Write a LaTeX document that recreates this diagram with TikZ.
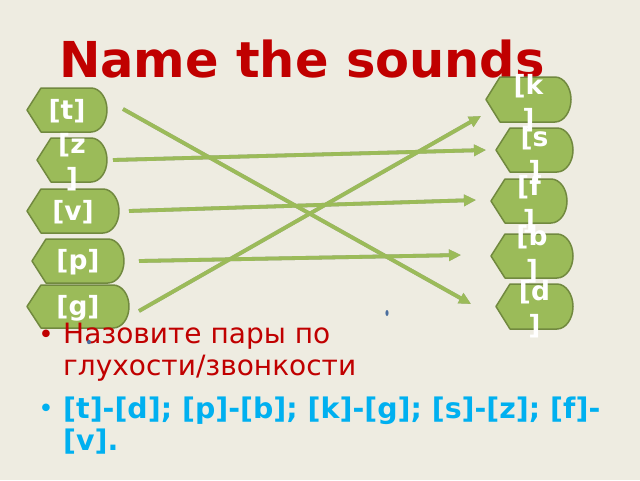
\documentclass[tikz,border=0pt]{standalone}
\usepackage{fontspec}
\setmainfont{DejaVu Sans}
\usetikzlibrary{arrows.meta}
\definecolor{bg}{HTML}{EEECE1}
\definecolor{shgreen}{HTML}{9BBB59}
\definecolor{shline}{HTML}{71893F}
\definecolor{titlered}{HTML}{C00000}
\definecolor{cyanb}{HTML}{00B0F0}
\definecolor{dotblue}{HTML}{4A6E9E}
\definecolor{shadowgray}{HTML}{A8A8A2}
\tikzset{
  dispshape/.style={fill=shgreen, draw=shline, line width=1.5pt, line join=round},
  lbl/.style={text=white, font=\fontsize{26.5}{34}\selectfont\bfseries, align=center, inner sep=0pt},
  conn/.style={draw=shgreen, line width=3.8pt, -{Triangle[length=12pt,width=11pt]}},
  connshadow/.style={draw=shadowgray, line width=3.8pt, -{Triangle[length=12pt,width=11pt]}, shift={(1.2,1.5)}},
  redtxt/.style={text=titlered, font=\fontsize{28}{32}\selectfont, anchor=base west, inner sep=0pt},
  cyantxt/.style={text=cyanb, font=\fontsize{28.4}{32}\selectfont\bfseries, anchor=base west, inner sep=0pt},
  bulletmark/.style={font=\fontsize{26}{30}\selectfont, anchor=base, inner sep=0pt},
}
\newcommand{\dshape}[4]{%
  \pgfmathsetmacro{\ym}{(#3+#4)/2}%
  \draw[dispshape] (#1,\ym) -- (#1+14,#3) -- (#2-16,#3)
    .. controls (#2-7.2,#3) and (#2,\ym-12.1) .. (#2,\ym)
    .. controls (#2,\ym+12.1) and (#2-7.2,#4) .. (#2-16,#4)
    -- (#1+14,#4) -- cycle;
}
\begin{document}
\begin{tikzpicture}[x=1pt, y=-1pt]
\useasboundingbox (0,0) rectangle (640,480);
\fill[bg] (0,0) rectangle (640,480);

% title
\node[font=\fontsize{49.5}{55}\selectfont\bfseries, text=titlered, anchor=base, inner sep=0pt] (title) at (302,77) {Name the sounds};

% shapes
\dshape{27}{107}{88}{132}
\dshape{37}{107}{138}{182}
\dshape{27}{119}{189}{233}
\dshape{32}{124}{239}{283}
\dshape{27}{129}{285}{328}
\dshape{486}{571}{77}{122}
\dshape{496}{573}{128}{172}
\dshape{491}{567}{179}{223}
\dshape{491}{573}{234}{278}
\dshape{496}{573}{284}{329}

% connector end points
\coordinate (t-o) at (123,109);
\coordinate (z-o) at (113,160);
\coordinate (v-o) at (129,211);
\coordinate (p-o) at (139,261);
\coordinate (g-o) at (139,311);
\coordinate (k-i) at (481,116);
\coordinate (s-i) at (486,150);
\coordinate (f-i) at (476,200);
\coordinate (b-i) at (461,255);
\coordinate (d-i) at (471,304);

% shadows
\draw[connshadow] (t-o) -- (d-i);
\draw[connshadow] (z-o) -- (s-i);
\draw[connshadow] (v-o) -- (f-i);
\draw[connshadow] (p-o) -- (b-i);
\draw[connshadow] (g-o) -- (k-i);
% connectors
\draw[conn] (t-o) -- (d-i);
\draw[conn] (z-o) -- (s-i);
\draw[conn] (v-o) -- (f-i);
\draw[conn] (p-o) -- (b-i);
\draw[conn] (g-o) -- (k-i);

% labels
\node[lbl] (t) at (67,111) {[t]};
\node[lbl] (z) at (72,162) {[z\\]};
\node[lbl] (v) at (73,212) {[v]};
\node[lbl] (p) at (78,262) {[p]};
\node[lbl] (g) at (78,308) {[g]};
\node[lbl] (k) at (528.5,103) {[k\\]};
\node[lbl] (s) at (534.5,155) {[s\\]};
\node[lbl] (f) at (529,204) {[f\\]};
\node[lbl] (b) at (532,254) {[b\\]};
\node[lbl] (d) at (534.5,309) {[d\\]};

% bullet text
\node[bulletmark, text=titlered] (b1) at (46,343) {•};
\node[redtxt] (q1) at (63,343) {Назовите пары по};
\node[redtxt] (q2) at (63,375) {глухости/звонкости};
\node[bulletmark, text=cyanb] (b2) at (46,417) {•};
\node[cyantxt] (a1) at (63,418) {[t]-[d]; [p]-[b]; [k]-[g]; [s]-[z]; [f]-};
\node[cyantxt] (a2) at (63,450) {[v].};

% small dots
\fill[dotblue] (387,313) ellipse (1.6 and 3);
\fill[dotblue] (89,342) ellipse (2 and 2.2);
\end{tikzpicture}
\end{document}
